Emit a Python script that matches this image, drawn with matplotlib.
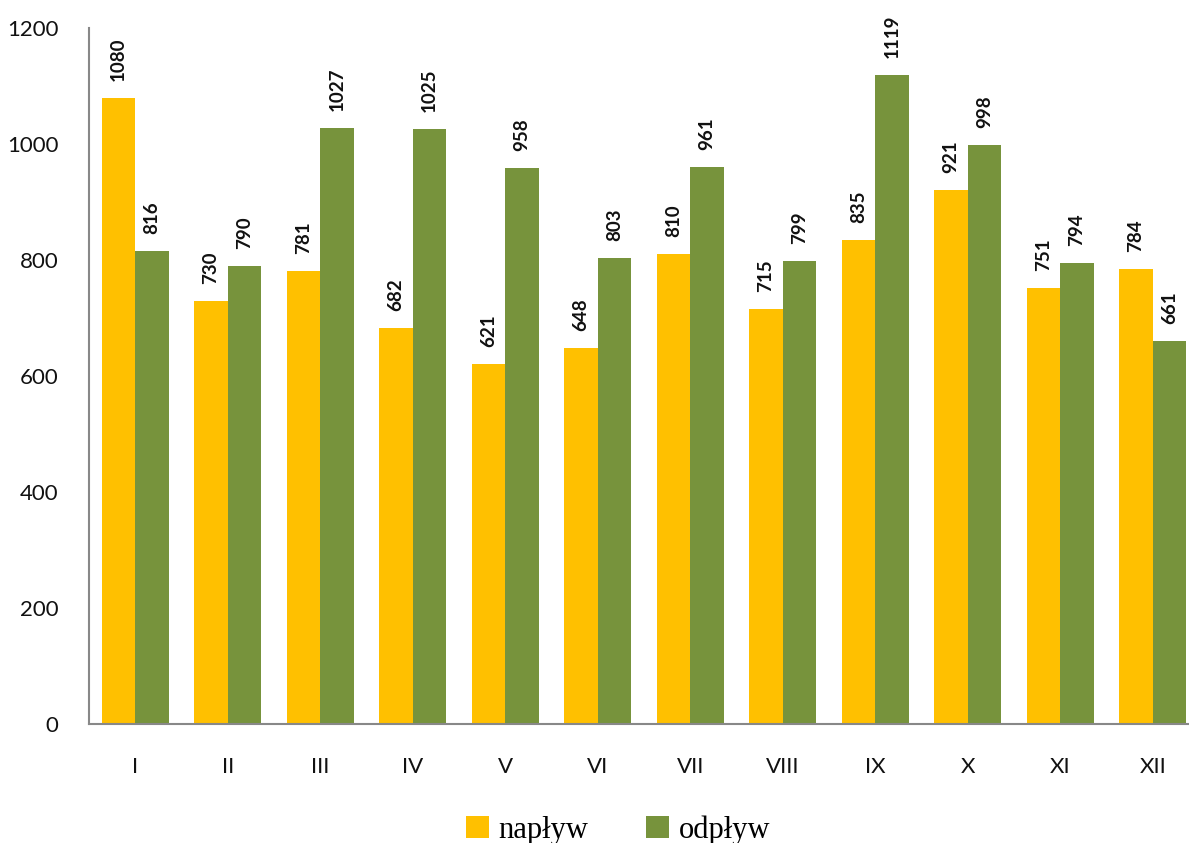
import matplotlib
matplotlib.use("Agg")
import matplotlib.pyplot as plt
import numpy as np
from matplotlib.patches import Patch

months = ["I", "II", "III", "IV", "V", "VI", "VII", "VIII", "IX", "X", "XI", "XII"]
naplyw = [1080, 730, 781, 682, 621, 648, 810, 715, 835, 921, 751, 784]
odplyw = [816, 790, 1027, 1025, 958, 803, 961, 799, 1119, 998, 794, 661]
series_names = ["napływ", "odpływ"]
colors = ["#FFC000", "#77933C"]

W, H = 1189, 843
fig = plt.figure(figsize=(W / 100, H / 100), dpi=100)
ax = fig.add_axes([89 / W, 1 - 724 / H, 1110 / W, (724 - 28) / H])

x = np.arange(len(months))
bw = 0.36
for vals, off, c in [(naplyw, -bw / 2, colors[0]), (odplyw, bw / 2, colors[1])]:
    ax.bar(x + off, vals, width=bw, color=c, edgecolor="none")
    for xi, v in zip(x + off, vals):
        ax.annotate(str(v), (xi, v), xytext=(0, 17), textcoords="offset pixels",
                    rotation=90, ha="center", va="bottom", fontsize=13.5,
                    fontweight="bold", family="Lato", color="#111111")

ax.set_xlim(-0.5, len(months) - 0.5)
ax.set_ylim(0, 1200)
ax.set_yticks(range(0, 1201, 200))
ax.set_xticks(x)
ax.set_xticklabels(months)
for lab in ax.get_xticklabels() + ax.get_yticklabels():
    lab.set_family("Lato")
    lab.set_fontsize(16)
    lab.set_color("#111111")
ax.tick_params(axis="y", length=0, pad=22)
ax.tick_params(axis="x", length=0, pad=24)
for s in ["top", "right"]:
    ax.spines[s].set_visible(False)
for s in ["left", "bottom"]:
    ax.spines[s].set_color("#888888")
    ax.spines[s].set_linewidth(1.5)

handles = [Patch(facecolor=c, edgecolor="none") for c in colors]
fig.legend(handles, series_names, loc="center", bbox_to_anchor=(0.52, 1 - 830 / H),
           ncol=2, frameon=False, prop={"family": "Liberation Serif", "size": 22},
           handlelength=0.75, handleheight=0.75, handletextpad=0.3, columnspacing=1.9)

fig.savefig("out.png", dpi=100)
